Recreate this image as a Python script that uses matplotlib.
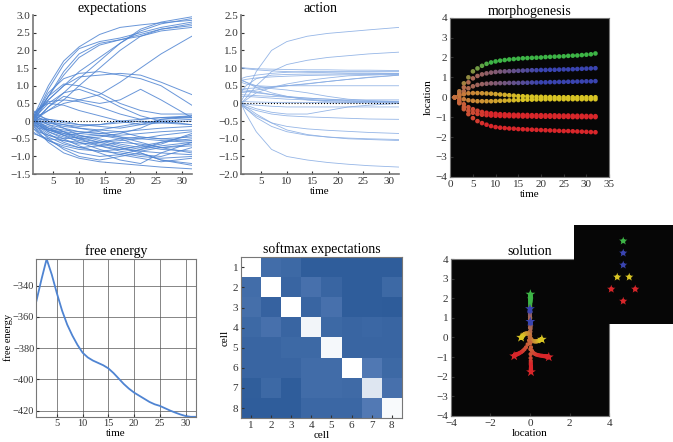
import numpy as np
import matplotlib
matplotlib.use('Agg')
import matplotlib.pyplot as plt
from matplotlib.colors import LinearSegmentedColormap, to_rgb

plt.rcParams['font.family'] = ['Liberation Serif', 'DejaVu Serif']
plt.rcParams['font.size'] = 8
plt.rcParams['axes.edgecolor'] = '#777777'
plt.rcParams['xtick.color'] = '#333333'
plt.rcParams['ytick.color'] = '#333333'

# ---- expectations (time, curves) ----
t_exp = [1, 2, 4, 7, 10, 14, 18, 22, 26, 32]
exp_high = [
    [0.1, 0.4, 1.0, 1.7, 2.1, 2.45, 2.65, 2.72, 2.78, 2.85],
    [0.0, 0.3, 0.9, 1.6, 2.05, 2.25, 2.35, 2.5, 2.65, 2.8],
    [-0.1, 0.2, 0.7, 1.4, 1.9, 2.2, 2.3, 2.45, 2.6, 2.7],
    [0.2, 0.3, 0.6, 1.0, 1.4, 1.8, 2.2, 2.6, 2.8, 2.95],
    [0.0, 0.1, 0.4, 0.8, 1.2, 1.7, 2.2, 2.55, 2.75, 2.9],
    [0.1, 0.15, 0.3, 0.6, 1.0, 1.5, 2.0, 2.4, 2.6, 2.75],
    [-0.05, 0.1, 0.3, 0.5, 0.6, 0.75, 1.1, 1.5, 1.9, 2.4],
    [0.05, 0.3, 0.7, 1.3, 1.8, 2.15, 2.3, 2.4, 2.55, 2.65],
]
exp_mid = [
    [0.1, 0.3, 0.8, 1.2, 1.35, 1.4, 1.3, 1.2, 1.0, 0.45],
    [0.0, 0.2, 0.6, 1.0, 1.25, 1.3, 1.35, 1.3, 1.1, 0.75],
    [0.05, 0.25, 0.7, 1.05, 1.0, 0.8, 0.5, 0.3, 0.2, 0.2],
    [0.0, 0.2, 0.5, 0.8, 0.9, 0.7, 0.4, 0.15, 0.0, -0.1],
    [-0.1, 0.1, 0.4, 0.7, 0.6, 0.5, 0.6, 0.9, 0.6, 0.1],
    [0.1, 0.3, 0.55, 0.6, 0.55, 0.4, 0.2, 0.05, 0.1, 0.15],
    [0.2, 0.35, 0.5, 0.45, 0.3, 0.15, 0.0, -0.1, -0.05, 0.0],
]
exp_low = [
    [0.0, -0.2, -0.5, -0.8, -1.0, -1.1, -1.0, -0.9, -1.1, -1.25],
    [-0.1, -0.3, -0.6, -0.9, -1.05, -1.15, -1.2, -1.25, -1.3, -1.35],
    [0.0, -0.1, -0.3, -0.5, -0.7, -0.9, -1.1, -1.2, -0.9, -0.6],
    [0.1, -0.05, -0.2, -0.35, -0.5, -0.6, -0.55, -0.5, -0.4, -0.3],
    [0.0, 0.0, -0.1, -0.2, -0.3, -0.35, -0.3, -0.25, -0.2, -0.15],
    [-0.2, -0.3, -0.4, -0.5, -0.45, -0.4, -0.5, -0.7, -0.8, -0.85],
    [0.1, 0.1, 0.0, -0.1, -0.2, -0.3, -0.45, -0.6, -0.75, -0.9],
    [0.0, -0.15, -0.35, -0.6, -0.75, -0.85, -0.8, -0.7, -0.6, -0.5],
    [-0.3, -0.4, -0.55, -0.7, -0.8, -0.85, -0.9, -1.0, -1.05, -1.0],
    [0.3, 0.2, 0.0, -0.2, -0.4, -0.55, -0.7, -0.8, -0.7, -0.6],
    [0.0, -0.05, -0.15, -0.3, -0.5, -0.7, -0.85, -0.95, -1.0, -0.75],
    [0.1, 0.0, -0.2, -0.4, -0.5, -0.45, -0.35, -0.2, 0.05, 0.1],
    [-0.1, -0.2, -0.25, -0.3, -0.35, -0.4, -0.45, -0.5, -0.55, -0.6],
    [0.2, 0.1, -0.05, -0.15, -0.2, -0.25, -0.15, -0.05, 0.0, 0.05],
    [-0.2, -0.35, -0.55, -0.75, -0.9, -1.0, -0.95, -0.8, -0.6, -0.4],
    [0.05, -0.1, -0.3, -0.45, -0.55, -0.65, -0.75, -0.85, -0.9, -0.95],
    [0.0, -0.1, -0.2, -0.25, -0.3, -0.35, -0.4, -0.35, -0.3, -0.25],
    [-0.05, -0.2, -0.4, -0.55, -0.65, -0.6, -0.5, -0.45, -0.5, -0.55],
    [0.15, 0.05, -0.1, -0.3, -0.45, -0.6, -0.75, -0.9, -1.1, -1.2],
    [0.0, 0.05, 0.05, 0.0, -0.1, -0.15, -0.2, -0.1, 0.05, 0.15],
    [-0.15, -0.25, -0.45, -0.65, -0.75, -0.7, -0.6, -0.65, -0.75, -0.7],
    [0.1, -0.05, -0.25, -0.4, -0.35, -0.25, -0.3, -0.45, -0.5, -0.45],
    [0.05, -0.1, -0.25, -0.35, -0.4, -0.5, -0.65, -0.75, -0.65, -0.35],
    [-0.1, -0.15, -0.25, -0.4, -0.6, -0.8, -0.95, -1.05, -1.15, -1.05],
    [0.0, 0.0, -0.05, -0.1, -0.15, -0.1, 0.0, 0.05, 0.1, 0.1],
    [0.2, 0.15, 0.05, -0.05, -0.1, -0.1, -0.05, 0.0, -0.05, -0.1],
    [-0.35, -0.4, -0.5, -0.55, -0.6, -0.7, -0.8, -0.85, -0.75, -0.65],
]
exp_yticks = [-1.5, -1.0, -0.5, 0, 0.5, 1.0, 1.5, 2.0, 2.5, 3.0]
exp_ylabels = ['\u22121.5', '\u22121.0', '\u22120.5', '0', '0.5', '1.0', '1.5', '2.0', '2.5', '3.0']

# ---- action ----
t_act = [1, 2, 4, 7, 10, 14, 18, 22, 26, 32]
act_curves = [
    [1.02, 1.0, 0.98, 0.97, 0.96, 0.95, 0.95, 0.94, 0.94, 0.93],
    [1.0, 0.98, 0.95, 0.92, 0.9, 0.88, 0.87, 0.86, 0.86, 0.85],
    [0.7, 0.75, 0.8, 0.85, 0.88, 0.9, 0.9, 0.9, 0.9, 0.9],
    [0.65, 0.68, 0.72, 0.75, 0.77, 0.79, 0.8, 0.81, 0.82, 0.83],
    [0.6, 0.55, 0.5, 0.48, 0.5, 0.55, 0.62, 0.68, 0.74, 0.8],
    [0.4, 0.42, 0.44, 0.46, 0.5, 0.56, 0.62, 0.68, 0.73, 0.8],
    [0.3, 0.5, 0.7, 0.8, 0.82, 0.83, 0.83, 0.84, 0.84, 0.85],
    [0.05, 0.3, 0.9, 1.5, 1.75, 1.9, 1.98, 2.03, 2.08, 2.15],
    [0.0, 0.15, 0.5, 0.9, 1.1, 1.22, 1.3, 1.35, 1.4, 1.45],
    [0.0, 0.1, 0.3, 0.45, 0.5, 0.5, 0.5, 0.5, 0.5, 0.5],
    [0.4, 0.38, 0.33, 0.25, 0.18, 0.12, 0.08, 0.06, 0.05, 0.05],
    [0.35, 0.34, 0.3, 0.25, 0.2, 0.15, 0.12, 0.1, 0.1, 0.1],
    [0.25, 0.24, 0.22, 0.2, 0.18, 0.15, 0.12, 0.08, 0.06, 0.05],
    [0.2, 0.2, 0.18, 0.15, 0.12, 0.1, 0.08, 0.07, 0.06, 0.06],
    [0.68, 0.6, 0.45, 0.3, 0.2, 0.1, 0.05, 0.03, 0.02, 0.02],
    [0.05, 0.05, 0.04, 0.03, 0.03, 0.03, 0.02, 0.02, 0.02, 0.02],
    [0.0, -0.02, -0.05, -0.08, -0.1, -0.1, -0.1, -0.1, -0.1, -0.1],
    [0.0, -0.05, -0.15, -0.25, -0.3, -0.3, -0.2, -0.1, -0.05, 0.0],
    [-0.05, -0.1, -0.2, -0.3, -0.35, -0.38, -0.4, -0.42, -0.44, -0.45],
    [-0.05, -0.15, -0.35, -0.55, -0.65, -0.72, -0.76, -0.79, -0.82, -0.85],
    [0.0, -0.15, -0.4, -0.65, -0.8, -0.9, -0.95, -0.98, -1.0, -1.02],
    [0.0, -0.1, -0.3, -0.55, -0.75, -0.88, -0.95, -1.0, -1.02, -1.05],
    [0.0, -0.3, -0.8, -1.3, -1.5, -1.6, -1.67, -1.72, -1.76, -1.8],
    [0.65, 0.6, 0.5, 0.42, 0.38, 0.3, 0.2, 0.12, 0.08, 0.05],
    [0.3, 0.32, 0.38, 0.45, 0.55, 0.65, 0.72, 0.78, 0.8, 0.82],
]
act_yticks = [-2.0, -1.5, -1.0, -0.5, 0, 0.5, 1.0, 1.5, 2.0, 2.5]
act_ylabels = ['\u22122.0', '\u22121.5', '\u22121.0', '\u22120.5', '0', '0.5', '1.0', '1.5', '2.0', '2.5']

# ---- morphogenesis: cell locations over time (y) and solution x ----
t_cells = list(range(1, 33))
cell_y = {
    'green': [0, 0.3, 0.7, 1.0, 1.3, 1.45, 1.58, 1.68, 1.75, 1.8, 1.84, 1.87, 1.9, 1.92, 1.94, 1.96,
              1.97, 1.98, 1.99, 2.0, 2.02, 2.03, 2.04, 2.05, 2.06, 2.08, 2.09, 2.1, 2.12, 2.14, 2.16, 2.2],
    'blue1': [0, 0.2, 0.5, 0.75, 0.95, 1.07, 1.15, 1.2, 1.24, 1.27, 1.29, 1.3, 1.31, 1.32, 1.33, 1.34,
              1.35, 1.36, 1.36, 1.37, 1.37, 1.38, 1.38, 1.39, 1.4, 1.4, 1.41, 1.42, 1.43, 1.44, 1.45, 1.46],
    'blue2': [0, 0.1, 0.3, 0.45, 0.55, 0.62, 0.66, 0.68, 0.7, 0.7, 0.71, 0.71, 0.72, 0.72, 0.72, 0.73,
              0.73, 0.74, 0.74, 0.75, 0.75, 0.76, 0.76, 0.77, 0.77, 0.78, 0.78, 0.79, 0.79, 0.8, 0.8, 0.81],
    'yellow1': [0, 0.1, 0.15, 0.2, 0.21, 0.21, 0.2, 0.19, 0.18, 0.16, 0.14, 0.12, 0.1, 0.08, 0.06, 0.05,
                0.04, 0.03, 0.02, 0.02, 0.01, 0.01, 0.0, 0.0, 0.0, 0.0, 0.0, 0.0, 0.0, 0.0, 0.0, 0.0],
    'yellow2': [0, -0.05, -0.1, -0.15, -0.18, -0.2, -0.2, -0.2, -0.2, -0.19, -0.18, -0.17, -0.16, -0.15, -0.14, -0.13,
                -0.12, -0.12, -0.11, -0.11, -0.1, -0.1, -0.1, -0.1, -0.1, -0.1, -0.1, -0.1, -0.1, -0.1, -0.1, -0.1],
    'red1': [0, -0.15, -0.35, -0.5, -0.6, -0.68, -0.74, -0.78, -0.81, -0.83, -0.85, -0.86, -0.87, -0.88, -0.88, -0.89,
             -0.89, -0.9, -0.9, -0.9, -0.91, -0.91, -0.91, -0.92, -0.92, -0.92, -0.93, -0.93, -0.93, -0.94, -0.94, -0.95],
    'red2': [0, -0.25, -0.5, -0.68, -0.78, -0.84, -0.88, -0.9, -0.92, -0.93, -0.94, -0.95, -0.95, -0.96, -0.96, -0.97,
             -0.97, -0.97, -0.98, -0.98, -0.98, -0.98, -0.99, -0.99, -0.99, -0.99, -1.0, -1.0, -1.0, -1.0, -1.0, -1.0],
    'red3': [0, -0.3, -0.6, -0.85, -1.05, -1.2, -1.3, -1.38, -1.45, -1.5, -1.53, -1.55, -1.57, -1.58, -1.6, -1.61,
             -1.62, -1.63, -1.64, -1.65, -1.66, -1.67, -1.68, -1.69, -1.7, -1.7, -1.71, -1.72, -1.73, -1.74, -1.75, -1.76],
}
cell_x = {
    'green': [0, 0, 0, 0.01, 0.01, 0.01, 0.01, 0.01, 0.01, 0.02, 0.02, 0.02, 0.02, 0.02, 0.02, 0.02,
              0.02, 0.02, 0.02, 0.02, 0.02, 0.02, 0.02, 0.02, 0.02, 0.02, 0.02, 0.02, 0.02, 0.02, 0.02, 0.02],
    'blue1': [0, 0, 0, 0, 0, 0, 0, 0, 0, 0, 0, 0, 0, 0, 0, 0,
              0, 0, 0, 0, 0, 0, 0, 0, 0, 0, 0, 0, 0, 0, 0, 0],
    'blue2': [0, 0.01, 0.02, 0.03, 0.03, 0.03, 0.03, 0.03, 0.02, 0.02, 0.02, 0.02, 0.02, 0.02, 0.02, 0.02,
              0.02, 0.02, 0.02, 0.02, 0.02, 0.02, 0.02, 0.02, 0.02, 0.02, 0.02, 0.02, 0.02, 0.02, 0.02, 0.02],
    'yellow1': [0, -0.02, -0.05, -0.08, -0.12, -0.16, -0.2, -0.24, -0.27, -0.3, -0.32, -0.34, -0.36, -0.37, -0.38, -0.39,
                -0.4, -0.41, -0.41, -0.42, -0.42, -0.43, -0.43, -0.43, -0.44, -0.44, -0.44, -0.45, -0.45, -0.45, -0.45, -0.45],
    'yellow2': [0, 0.03, 0.07, 0.11, 0.16, 0.21, 0.26, 0.3, 0.34, 0.38, 0.41, 0.44, 0.46, 0.48, 0.5, 0.51,
                0.53, 0.54, 0.55, 0.55, 0.56, 0.57, 0.57, 0.58, 0.58, 0.58, 0.59, 0.59, 0.59, 0.6, 0.6, 0.6],
    'red1': [0, -0.05, -0.12, -0.2, -0.28, -0.36, -0.43, -0.5, -0.55, -0.6, -0.64, -0.67, -0.7, -0.72, -0.73, -0.74,
             -0.75, -0.76, -0.77, -0.77, -0.78, -0.78, -0.78, -0.79, -0.79, -0.79, -0.79, -0.8, -0.8, -0.8, -0.8, -0.8],
    'red2': [0, 0.02, 0.05, 0.1, 0.17, 0.25, 0.33, 0.42, 0.5, 0.58, 0.64, 0.7, 0.74, 0.78, 0.81, 0.83,
             0.85, 0.87, 0.88, 0.89, 0.9, 0.91, 0.91, 0.92, 0.92, 0.93, 0.93, 0.94, 0.94, 0.94, 0.95, 0.95],
    'red3': [0, 0.01, 0.02, 0.03, 0.03, 0.04, 0.04, 0.04, 0.05, 0.05, 0.05, 0.05, 0.05, 0.05, 0.05, 0.05,
             0.05, 0.05, 0.05, 0.05, 0.05, 0.05, 0.05, 0.05, 0.05, 0.05, 0.05, 0.05, 0.05, 0.05, 0.05, 0.05],
}
cell_colour = {'green': '#3db446', 'blue1': '#3a44b0', 'blue2': '#3a44b0', 'yellow1': '#d8c424',
               'yellow2': '#d8c424', 'red1': '#d8262a', 'red2': '#d8262a', 'red3': '#d8262a'}
cell_switch = {'green': 9, 'blue1': 20, 'blue2': 20, 'yellow1': 16, 'yellow2': 16,
               'red1': 9, 'red2': 9, 'red3': 8}
start_colour = '#c4703e'

# target configuration (inset)
target_x = [0, 0, 0, -0.5, 0.5, -1, 1, 0]
target_y = [3, 2, 1, 0, 0, -1, -1, -2]
target_col = ['#3db446', '#3a44b0', '#3a44b0', '#d8c424', '#d8c424', '#d8262a', '#d8262a', '#d8262a']

# ---- free energy ----
t_fe = [1, 2, 3, 4, 5, 6, 7, 8, 9, 10, 11, 12, 13, 14, 15, 16, 17, 18, 19, 20,
        21, 22, 23, 24, 25, 26, 27, 28, 29, 30, 31, 32]
free_energy = [-350, -336, -323, -333, -345, -356, -365, -372, -378, -383, -386, -388, -389.5, -391, -393, -396,
               -399.5, -403, -406, -408.5, -410.5, -412.5, -414.5, -416, -417, -418.5, -420, -421.3, -422.5, -423.5,
               -424, -424]

# ---- softmax expectations ----
softmax = np.array([
    [1.00, 0.25, 0.20, 0.05, 0.05, 0.05, 0.05, 0.05],
    [0.25, 1.00, 0.15, 0.30, 0.15, 0.05, 0.05, 0.20],
    [0.28, 0.12, 1.00, 0.15, 0.30, 0.05, 0.05, 0.04],
    [0.20, 0.30, 0.15, 0.96, 0.20, 0.15, 0.18, 0.15],
    [0.15, 0.15, 0.20, 0.20, 0.97, 0.15, 0.15, 0.15],
    [0.15, 0.15, 0.15, 0.24, 0.24, 1.00, 0.40, 0.20],
    [0.06, 0.20, 0.05, 0.24, 0.24, 0.22, 0.90, 0.30],
    [0.05, 0.05, 0.05, 0.18, 0.18, 0.18, 0.42, 0.98],
])
cells = [1, 2, 3, 4, 5, 6, 7, 8]


def blend(name, t):
    w = min(1.0, (t - 1) / (cell_switch[name] - 1.0))
    a = np.array(to_rgb(start_colour))
    b = np.array(to_rgb(cell_colour[name]))
    return tuple((1 - w) * a + w * b)


def style_ts(ax, yticks, ylabels, ylim):
    ax.spines['top'].set_visible(False)
    ax.spines['right'].set_visible(False)
    ax.spines['left'].set_linewidth(1.2)
    ax.spines['bottom'].set_linewidth(1.2)
    ax.set_xlim(1, 32)
    ax.set_ylim(*ylim)
    ax.set_xticks([5, 10, 15, 20, 25, 30])
    ax.set_yticks(yticks)
    ax.set_yticklabels(ylabels)
    ax.tick_params(direction='in', length=2, labelsize=8, pad=2)
    ax.set_xlabel('time', fontsize=8, labelpad=1)


fig = plt.figure(figsize=(6.73, 4.42), dpi=100)

# expectations
ax1 = fig.add_axes([0.049, 0.606, 0.236, 0.36])
for c in exp_high + exp_mid + exp_low:
    ax1.plot(t_exp, c, color='#4f84d2', lw=0.7, alpha=0.85)
ax1.plot([1, 32], [0, 0], color='k', ls=':', lw=0.8)
style_ts(ax1, exp_yticks, exp_ylabels, (-1.5, 3.0))
ax1.set_title('expectations', fontsize=10, pad=2)

# action
ax2 = fig.add_axes([0.358, 0.606, 0.235, 0.36])
for c in act_curves:
    ax2.plot(t_act, c, color='#8aaee4', lw=0.6, alpha=0.9)
ax2.plot([1, 32], [0, 0], color='k', ls=':', lw=0.8)
style_ts(ax2, act_yticks, act_ylabels, (-2.0, 2.5))
ax2.set_title('action', fontsize=10, pad=2)

# morphogenesis
ax3 = fig.add_axes([0.669, 0.6, 0.236, 0.36])
ax3.set_facecolor('#060606')
for name in cell_y:
    cols = [blend(name, t) for t in t_cells]
    ax3.scatter(t_cells, cell_y[name], c=cols, s=11, edgecolors='none', zorder=3)
ax3.set_xlim(0, 35)
ax3.set_ylim(-4, 4)
ax3.set_xticks([0, 5, 10, 15, 20, 25, 30, 35])
ax3.set_yticks([-4, -3, -2, -1, 0, 1, 2, 3, 4])
ax3.set_yticklabels(['\u22124', '\u22123', '\u22122', '\u22121', '0', '1', '2', '3', '4'])
ax3.tick_params(direction='in', length=2, labelsize=8, pad=2)
ax3.set_xlabel('time', fontsize=8, labelpad=1)
ax3.set_ylabel('location', fontsize=8, labelpad=2)
ax3.set_title('morphogenesis', fontsize=10, pad=2)

# free energy
ax4 = fig.add_axes([0.054, 0.057, 0.237, 0.357])
ax4.plot(t_fe, free_energy, color='#4f84d2', lw=1.3)
ax4.set_xlim(1, 32)
ax4.set_ylim(-424, -323)
ax4.set_xticks([5, 10, 15, 20, 25, 30])
ax4.set_yticks([-420, -400, -380, -360, -340])
ax4.set_yticklabels(['\u2212420', '\u2212400', '\u2212380', '\u2212360', '\u2212340'])
ax4.grid(True, color='#bbbbbb', lw=1.6)
ax4.grid(True, color='#555555', lw=0.5)
ax4.set_axisbelow(True)
ax4.tick_params(direction='in', length=2, labelsize=7.5, pad=1.5)
ax4.set_xlabel('time', fontsize=8, labelpad=1)
ax4.set_ylabel('free energy', fontsize=7.5, labelpad=0)
ax4.set_title('free energy', fontsize=10, pad=3)

# softmax expectations
ax5 = fig.add_axes([0.358, 0.054, 0.239, 0.364])
cmap = LinearSegmentedColormap.from_list('bw', ['#2b5a98', '#5a80ba', '#ffffff'])
ax5.imshow(softmax, cmap=cmap, vmin=0, vmax=1, aspect='auto',
           extent=(0.5, 8.5, 8.5, 0.5), interpolation='nearest')
ax5.set_xticks(cells)
ax5.set_yticks(cells)
ax5.tick_params(direction='in', length=2, labelsize=8, pad=2)
ax5.set_xlabel('cell', fontsize=8, labelpad=1)
ax5.set_ylabel('cell', fontsize=8, labelpad=2)
ax5.set_title('softmax expectations', fontsize=10, pad=3)

# solution
ax6 = fig.add_axes([0.670, 0.059, 0.235, 0.355])
ax6.set_facecolor('#060606')
for name in cell_y:
    cols = [blend(name, t) for t in t_cells]
    ax6.scatter(cell_x[name], cell_y[name], c=cols, s=9, edgecolors='none', zorder=3)
    ax6.scatter(cell_x[name][-1], cell_y[name][-1], marker='*', s=55,
                color=cell_colour[name], edgecolors='none', zorder=4)
ax6.set_xlim(-4, 4)
ax6.set_ylim(-4, 4)
ax6.set_xticks([-4, -2, 0, 2, 4])
ax6.set_xticklabels(['\u22124', '\u22122', '0', '2', '4'])
ax6.set_yticks([-4, -3, -2, -1, 0, 1, 2, 3, 4])
ax6.set_yticklabels(['\u22124', '\u22123', '\u22122', '\u22121', '0', '1', '2', '3', '4'])
ax6.tick_params(direction='in', length=2, labelsize=8, pad=2)
ax6.set_xlabel('location', fontsize=8, labelpad=1)
ax6.set_title('solution', fontsize=10, pad=3)

# target inset
ax7 = fig.add_axes([0.853, 0.267, 0.147, 0.224])
ax7.set_facecolor('#060606')
ax7.scatter(target_x, target_y, c=target_col, marker='*', s=40, edgecolors='none', zorder=3)
ax7.scatter(target_x, target_y, c=target_col, marker='o', s=10, edgecolors='none', zorder=4)
ax7.set_xlim(-4.1, 4.15)
ax7.set_ylim(-3.9, 4.33)
ax7.set_xticks([])
ax7.set_yticks([])
for sp in ax7.spines.values():
    sp.set_visible(False)

fig.savefig('out.png', dpi=100)
